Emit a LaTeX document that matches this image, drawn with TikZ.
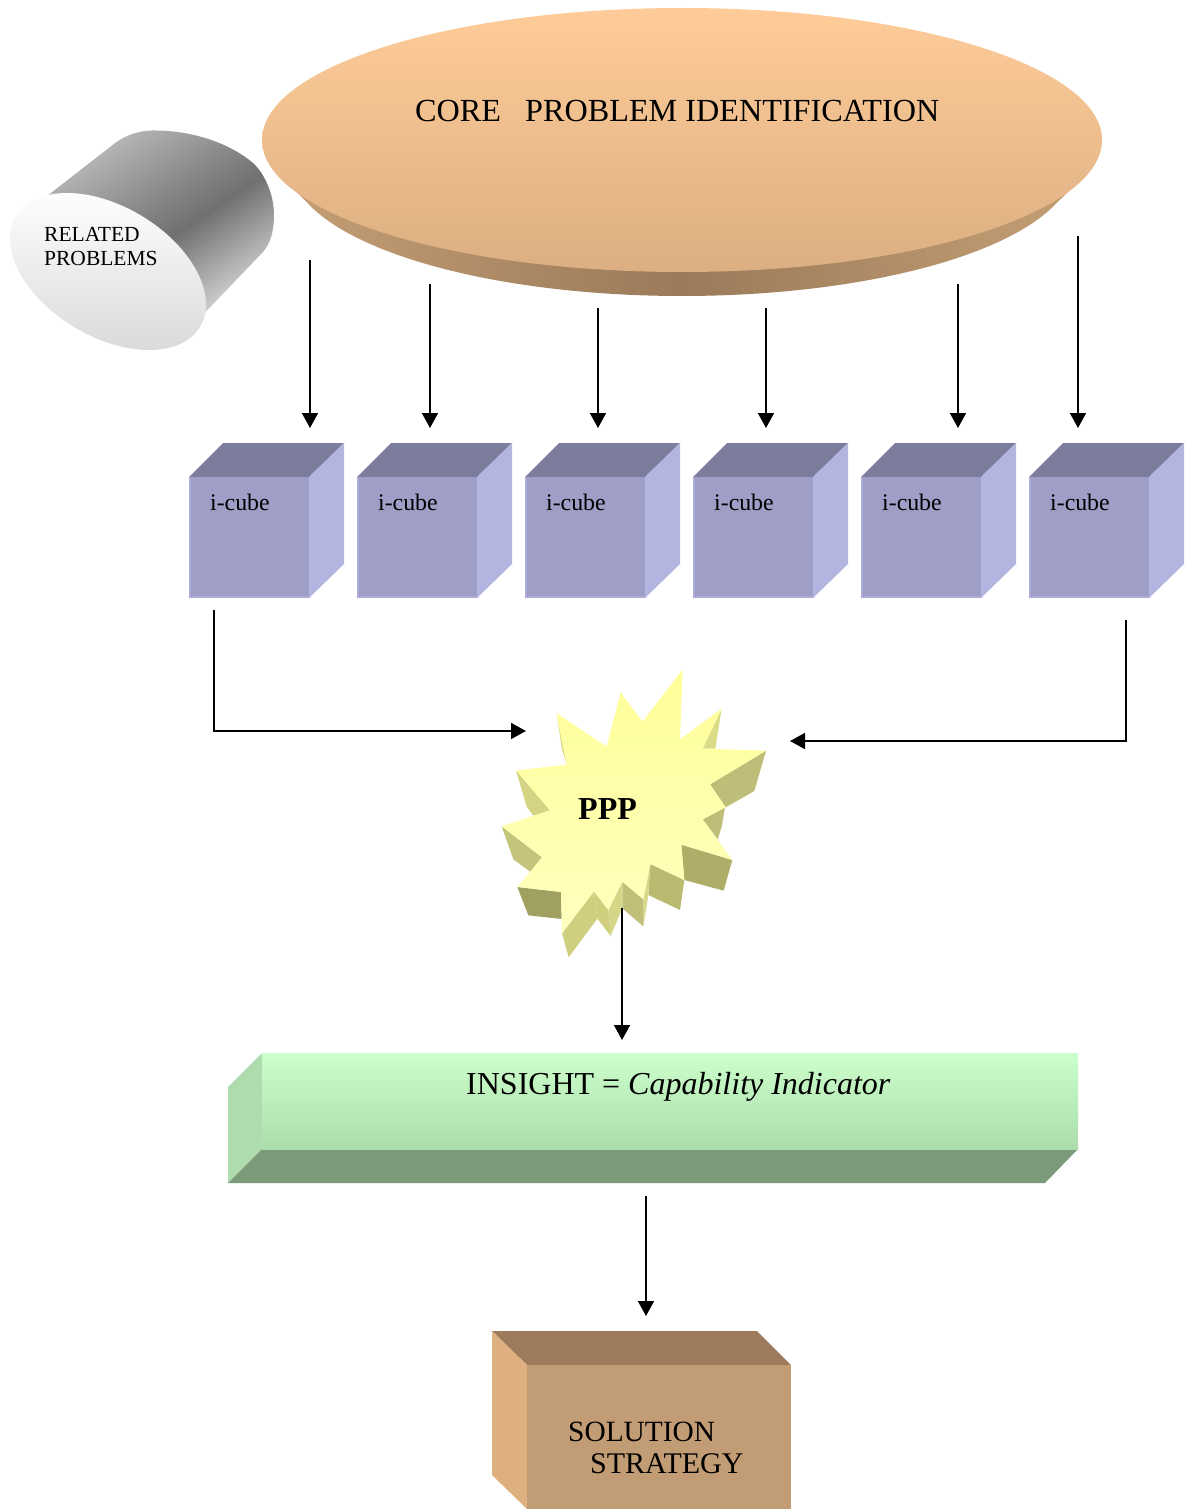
\documentclass[tikz,border=0pt]{standalone}
\usepackage{fontspec}
\setmainfont{Liberation Serif}
\usetikzlibrary{arrows.meta}
\definecolor{cfront}{HTML}{9F9EC6}
\definecolor{cedge}{HTML}{ACACD4}
\definecolor{ctop}{HTML}{7C7C9C}
\definecolor{cright}{HTML}{B4B4E0}
\pgfdeclarehorizontalshading{cylbody}{100bp}{color(0bp)=(white!76!black);color(26bp)=(white!73!black);color(38.5bp)=(white!60!black);color(46bp)=(white!52!black);color(54.5bp)=(white!44!black);color(67.5bp)=(white!69!black);color(76.5bp)=(white!86!black);color(81.5bp)=(white!93!black);color(90bp)=(white!97!black);color(100bp)=(white)}
\tikzset{
  arr/.style={line width=1.7pt,-{Triangle[length=15pt,width=16pt]}},
  lab/.style={anchor=base west,inner sep=0pt,text=black}
}
\begin{document}
\begin{tikzpicture}[x=1pt,y=-1pt]
\useasboundingbox (0,0) rectangle (1189,1509);
\fill[white] (0,0) rectangle (1189,1509);
% core ellipse
\shade[left color={rgb,255:red,196;green,158;blue,116},right color={rgb,255:red,196;green,158;blue,116},middle color={rgb,255:red,154;green,122;blue,90}]
  (288,183) -- plot[domain=160.7:20,samples=70,smooth] ({682+392*cos(\x)},{164+132*sin(\x)}) -- (1072,188) -- cycle;
\shade[top color={rgb,255:red,255;green,204;blue,153},bottom color={rgb,255:red,219;green,175;blue,130}] (682,140) ellipse [x radius=420pt,y radius=132pt];
\node[lab,font=\fontsize{32.2}{32}\selectfont] (core) at (415,122) {CORE\ \ \ PROBLEM IDENTIFICATION};
% cylinder
\shade[shading=cylbody,shading angle=-56]
  (33,207) -- (110,147) .. controls (122,137) and (135,131) .. (152,130.5)
  .. controls (195,130) and (232,145) .. (253,163)
  .. controls (265,174) and (274,195) .. (274,215)
  .. controls (274,232) and (270,244) .. (263,252)
  -- (195,323) -- cycle;
\shade[top color=white,bottom color=white!85!black] (108,271.5) ellipse [x radius=107.4pt,y radius=65pt,rotate=-31];
\node[lab,font=\fontsize{21.5}{21.5}\selectfont] (rel) at (44,241) {RELATED};
\node[lab,font=\fontsize{21.5}{21.5}\selectfont] (prob) at (44,265) {PROBLEMS};
% cubes
\foreach \n/\xx in {a/0,b/168,c/336,d/504,e/672,f/840}{
  \begin{scope}[xshift=\xx pt]
    \fill[ctop] (189,477) -- (223,443) -- (344,443) -- (309,477) -- cycle;
    \fill[cright] (309,477) -- (344,443) -- (344,564) -- (309,598) -- cycle;
    \fill[cfront] (189,477) rectangle (309,598);
    \fill[cedge] (189,477) rectangle (191,598);
    \fill[cedge] (189,596) rectangle (309,598);
    \node[lab,font=\fontsize{23.8}{24}\selectfont] (cube\n) at (210,510) {i-cube};
  \end{scope}
}
% burst
\begin{scope}[x=0.33333pt,y=-0.33333pt,shift={(480pt,-650pt)}]
  \fill[fill={rgb,255:red,220;green,220;blue,136}] (725,176) -- (668,296) -- (706,296) -- cycle;
  \fill[fill={rgb,255:red,220;green,220;blue,136}] (260,344) -- (230,190) -- (246,300) -- cycle;
  \fill[fill={rgb,255:red,190;green,190;blue,120}] (858,302) -- (690,403) -- (737,472) -- (823,423) -- cycle;
  \fill[fill={rgb,255:red,190;green,190;blue,120}] (735,472) -- (668,508) -- (713,568) -- (725,530) -- cycle;
  \fill[fill={rgb,255:red,174;green,174;blue,104}] (757,630) -- (604,584) -- (613,690) -- (731,722) -- cycle;
  \fill[fill={rgb,255:red,186;green,186;blue,112}] (613,690) -- (511,642) -- (505,735) -- (600,780) -- cycle;
  \fill[fill={rgb,255:red,216;green,216;blue,136}] (511,642) -- (490,748) -- (490,829) -- (505,735) -- cycle;
  \fill[fill={rgb,255:red,192;green,192;blue,120}] (427,695) -- (490,748) -- (490,829) -- (427,775) -- cycle;
  \fill[fill={rgb,255:red,214;green,214;blue,136}] (427,695) -- (385,780) -- (392,858) -- (427,775) -- cycle;
  \fill[fill={rgb,255:red,207;green,207;blue,126}] (342,724) -- (385,780) -- (392,858) -- (352,806) -- cycle;
  \fill[fill={rgb,255:red,207;green,207;blue,128}] (342,724) -- (246,850) -- (266,922) -- (352,806) -- cycle;
  \fill[fill={rgb,255:red,160;green,160;blue,96}] (243,726) -- (112,711) -- (145,796) -- (245,807) -- cycle;
  \fill[fill={rgb,255:red,196;green,196;blue,124}] (186,622) -- (65,529) -- (100,628) -- (152,666) -- cycle;
  \fill[fill={rgb,255:red,212;green,212;blue,132}] (210,481) -- (108,361) -- (140,470) -- (160,497) -- cycle;
  \shade[top color={rgb,255:red,255;green,255;blue,153},bottom color={rgb,255:red,255;green,255;blue,190}]
    (608,58) -- (600,268) -- (725,176) -- (668,296) -- (858,302) -- (690,403) -- (737,472) -- (668,508) -- (757,630) -- (604,584) -- (613,690) -- (511,642) -- (490,748) -- (427,695) -- (385,780) -- (342,724) -- (246,850) -- (243,726) -- (112,711) -- (186,622) -- (65,529) -- (210,481) -- (108,361) -- (260,344) -- (230,190) -- (380,290) -- (422,127) -- (488,215) -- cycle;
\end{scope}
\node[lab,font=\fontsize{32}{32}\selectfont\bfseries] (ppp) at (578,819) {PPP};
% insight band
\fill[fill={rgb,255:red,174;green,220;blue,174}] (228,1087) -- (262,1053) -- (262,1149) -- (228,1183) -- cycle;
\fill[fill={rgb,255:red,122;green,154;blue,122}] (262,1149) -- (1078,1149) -- (1045,1183) -- (228,1183) -- cycle;
\shade[top color={rgb,255:red,204;green,255;blue,204},bottom color={rgb,255:red,172;green,220;blue,172}] (262,1053) rectangle (1078,1149);
\node[lab,font=\fontsize{32}{32}\selectfont] (ins) at (466,1094) {INSIGHT = \textit{Capability Indicator}};
% solution box
\fill[fill={rgb,255:red,156;green,122;blue,90}] (492,1331) -- (757,1331) -- (791,1365) -- (527,1365) -- cycle;
\fill[fill={rgb,255:red,222;green,176;blue,128}] (492,1331) -- (527,1365) -- (527,1509) -- (492,1475) -- cycle;
\fill[fill={rgb,255:red,194;green,156;blue,116}] (527,1365) rectangle (791,1509);
\node[lab,font=\fontsize{29.4}{30}\selectfont] (sol) at (568,1441) {SOLUTION};
\node[lab,font=\fontsize{30}{30}\selectfont] (str) at (590,1473) {STRATEGY};
% connectors
\foreach \xx/\ya/\n in {310/260/1,430/284/2,598/308/3,766/308/4,958/284/5,1078/236/6}{
  \coordinate (s\n) at (\xx,\ya);
  \coordinate (t\n) at (\xx,428);
  \draw[arr] (s\n) -- (t\n);
}
\coordinate (la) at (214,610); \coordinate (lb) at (526,731);
\coordinate (ra) at (1126,620); \coordinate (rb) at (790,741);
\coordinate (pa) at (622,908); \coordinate (pb) at (622,1040);
\coordinate (ia) at (646,1196); \coordinate (ib) at (646,1316);
\draw[arr] (la) |- (lb);
\draw[arr] (ra) |- (rb);
\draw[arr] (pa) -- (pb);
\draw[arr] (ia) -- (ib);
\end{tikzpicture}
\end{document}
